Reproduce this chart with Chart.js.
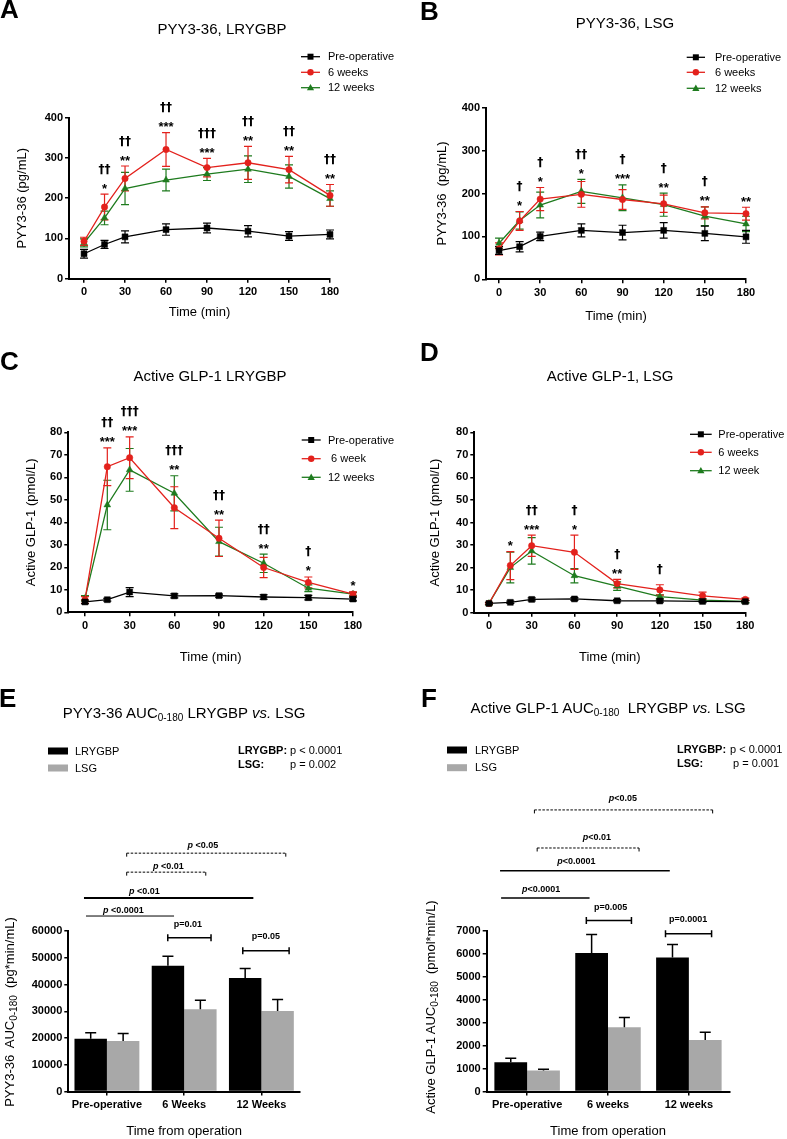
<!DOCTYPE html>
<html>
<head>
<meta charset="utf-8">
<script src="https://cdn.jsdelivr.net/npm/chart.js"></script>
<style>
  body { margin: 0; background: #fff; }
  #fig { position: relative; width: 787px; height: 1139px; overflow: hidden; background: #fff;
         font-family: 'Liberation Sans', Arial, Helvetica, sans-serif; color: #000; }
  #fig canvas { position: absolute; }
  .letter { position: absolute; font-size: 26px; font-weight: bold; line-height: 26px; }
  .ttl { position: absolute; font-size: 15px; line-height: 1; white-space: nowrap; transform: translate(-50%, -50%); }
  .ytl { position: absolute; font-size: 13px; line-height: 1; white-space: nowrap; transform: translate(-50%, -50%) rotate(-90deg); }
  sub { font-size: 10px; line-height: 0; vertical-align: -3px; }
</style>
</head>
<body>
<div id="fig">
  <canvas id="cA" width="400" height="320" style="left:0;top:0"></canvas>
  <canvas id="cB" width="397" height="324" style="left:390px;top:0"></canvas>
  <canvas id="cC" width="400" height="345" style="left:0;top:320px"></canvas>
  <canvas id="cD" width="397" height="345" style="left:390px;top:320px"></canvas>
  <canvas id="cE" width="390" height="474" style="left:0;top:665px"></canvas>
  <canvas id="cF" width="397" height="474" style="left:390px;top:665px"></canvas>

  <div class="letter" style="left:0;top:-4px">A</div>
  <div class="letter" style="left:420px;top:-2px">B</div>
  <div class="letter" style="left:0;top:348px">C</div>
  <div class="letter" style="left:420px;top:339px">D</div>
  <div class="letter" style="left:-1px;top:685px">E</div>
  <div class="letter" style="left:421px;top:685px">F</div>

  <div class="ttl" style="left:222px;top:28px">PYY3-36, LRYGBP</div>
  <div class="ttl" style="left:625px;top:22px">PYY3-36, LSG</div>
  <div class="ttl" style="left:210px;top:375px">Active GLP-1 LRYGBP</div>
  <div class="ttl" style="left:610px;top:375px">Active GLP-1, LSG</div>
  <div class="ttl" style="left:184px;top:712px">PYY3-36 AUC<sub>0-180</sub> LRYGBP <i>vs.</i> LSG</div>
  <div class="ttl" style="left:608px;top:707px">Active GLP-1 AUC<sub>0-180</sub>&nbsp; LRYGBP <i>vs.</i> LSG</div>

  <div class="ytl" style="left:9px;top:1012px">PYY3-36&nbsp; AUC<sub>0-180</sub>&nbsp; (pg*min/mL)</div>
  <div class="ytl" style="left:430px;top:1007px">Active GLP-1 AUC<sub>0-180</sub>&nbsp; (pmol*min/L)</div>
</div>

<script>
// sampling times (min) and x tick labels
const times = [0, 15, 30, 60, 90, 120, 150, 180];
const timeTicks = [0, 30, 60, 90, 120, 150, 180];

// A: PYY3-36, LRYGBP (pg/mL), mean and SEM
const pyyRygbPre = [62, 85, 104, 122, 126, 118, 106, 110];
const pyyRygbPreErr = [11, 10, 15, 14, 12, 14, 11, 11];
const pyyRygb6w = [93, 178, 249, 321, 276, 288, 271, 207];
const pyyRygb6wErr = [10, 32, 31, 42, 23, 41, 33, 27];
const pyyRygb12w = [89, 151, 224, 245, 260, 272, 254, 199];
const pyyRygb12wErr = [10, 17, 40, 27, 16, 33, 29, 19];
const pyyRygbDaggers = ['', '††', '††', '††', '†††', '††', '††', '††'];
const pyyRygbStars = ['', '*', '**', '***', '***', '**', '**', '**'];

// B: PYY3-36, LSG (pg/mL)
const pyySgPre = [67, 76, 100, 114, 109, 114, 107, 99];
const pyySgPreErr = [9, 12, 10, 15, 17, 18, 17, 15];
const pyySg6w = [71, 136, 187, 198, 186, 176, 155, 153];
const pyySg6wErr = [14, 22, 27, 30, 23, 20, 14, 15];
const pyySg12w = [84, 137, 173, 205, 190, 174, 147, 129];
const pyySg12wErr = [12, 20, 30, 28, 30, 27, 22, 18];
const pyySgDaggers = ['', '†', '†', '††', '†', '†', '†', ''];
const pyySgStars = ['', '*', '*', '*', '***', '**', '**', '**'];

// C: active GLP-1, LRYGBP (pmol/L)
const glpRygbPre = [4.6, 5.6, 9.0, 7.3, 7.4, 6.8, 6.5, 5.9];
const glpRygbPreErr = [0.8, 0.6, 2.0, 0.9, 0.7, 1.0, 1.0, 0.8];
const glpRygb6w = [5.5, 64.7, 68.7, 46.5, 32.9, 19.9, 13.3, 8.1];
const glpRygb6wErr = [1.5, 8.4, 9.3, 9.3, 8.1, 4.5, 2.4, 1.0];
const glpRygb12w = [6.2, 47.7, 63.3, 52.9, 31.4, 21.8, 10.7, 8.1];
const glpRygb12wErr = [1.2, 11.0, 9.5, 7.8, 6.4, 4.1, 1.5, 0.8];
const glpRygbDaggers = ['', '††', '†††', '†††', '††', '††', '†', ''];
const glpRygbStars = ['', '***', '***', '**', '**', '**', '*', '*'];

// D: active GLP-1, LSG (pmol/L)
const glpSgPre = [4.1, 4.6, 5.9, 6.1, 5.3, 5.2, 5.0, 4.9];
const glpSgPreErr = [0.4, 0.5, 0.7, 0.6, 0.5, 0.5, 0.5, 0.5];
const glpSg6w = [4.1, 20.9, 29.7, 26.8, 12.9, 10.1, 7.5, 5.9];
const glpSg6wErr = [0.5, 6.2, 4.7, 7.6, 1.9, 2.3, 1.6, 0.6];
const glpSg12w = [4.1, 20.0, 27.4, 16.4, 11.8, 7.1, 5.6, 5.0];
const glpSg12wErr = [0.5, 6.8, 5.9, 3.2, 1.9, 0.8, 0.6, 0.5];
const glpSgDaggers = ['', '', '††', '†', '†', '†', '', ''];
const glpSgStars = ['', '*', '***', '*', '**', '', '', ''];

// E: PYY3-36 AUC 0-180 (pg*min/mL)
const pyyAucGroups = ['Pre-operative', '6 Weeks', '12 Weeks'];
const pyyAucRygb = [19750, 47000, 42400];
const pyyAucRygbErr = [2250, 3600, 3600];
const pyyAucSg = [18900, 30750, 30100];
const pyyAucSgErr = [2750, 3400, 4250];

// F: active GLP-1 AUC 0-180 (pmol*min/L)
const glpAucGroups = ['Pre-operative', '6 weeks', '12 weeks'];
const glpAucRygb = [1275, 6043, 5841];
const glpAucRygbErr = [175, 800, 565];
const glpAucSg = [913, 2797, 2246];
const glpAucSgErr = [60, 435, 333];

// comparison lines over the bars (x in category units, y in axis units)
const pyyAucComparisons = [
  { kind: 'dashed', from: 0.256, to: 2.316, at: 89100, p: 'p', text: ' <0.05', textAt: 1.241, gap: 7.5 },
  { kind: 'dashed', from: 0.256, to: 1.28, at: 82000, p: 'p', text: ' <0.01', textAt: 0.795, gap: 5.6 },
  { kind: 'line', lw: 2, from: -0.297, to: 1.896, at: 72300, p: 'p', text: ' <0.01', textAt: 0.484, gap: 6.6 },
  { kind: 'line', lw: 1, from: -0.271, to: 0.869, at: 65600, p: 'p', text: ' <0.0001', textAt: 0.212, gap: 6 },
  { kind: 'bracket', from: 0.788, to: 1.348, at: 57500, p: '', text: 'p=0.01', textAt: 1.047, gap: 12.7 },
  { kind: 'bracket', from: 1.759, to: 2.359, at: 52600, p: '', text: 'p=0.05', textAt: 2.057, gap: 14 }
];
const glpAucComparisons = [
  { kind: 'dashed', from: 0.09, to: 2.294, at: 12280, p: 'p', text: '<0.05', textAt: 1.185, gap: 11.7 },
  { kind: 'dashed', from: 0.124, to: 1.384, at: 10620, p: 'p', text: '<0.01', textAt: 0.863, gap: 10.6 },
  { kind: 'line', lw: 1.5, from: -0.335, to: 1.764, at: 9630, p: 'p', text: '<0.0001', textAt: 0.608, gap: 9 },
  { kind: 'line', lw: 1.5, from: -0.322, to: 0.772, at: 8440, p: 'p', text: '<0.0001', textAt: 0.174, gap: 8.3 },
  { kind: 'bracket', from: 0.732, to: 1.29, at: 7460, p: '', text: 'p=0.005', textAt: 1.033, gap: 13 },
  { kind: 'bracket', from: 1.711, to: 2.281, at: 6880, p: '', text: 'p=0.0001', textAt: 1.991, gap: 14.3 }
];

const FAMILY = "'Liberation Sans', Arial, Helvetica, sans-serif";
const DAGGER_FONT = "bold 12px 'DejaVu Sans', 'Liberation Sans', Arial, sans-serif";
const INK = '#000000';
const RED = '#e3211c';
const GREEN = '#1e7b1e';
const GREY = '#a8a8a8';

Chart.defaults.font.family = FAMILY;
Chart.defaults.color = INK;

function drawMarker(ctx, style, x, y, color) {
  ctx.fillStyle = color;
  ctx.beginPath();
  if (style === 'rect') {
    ctx.rect(x - 3, y - 3, 6, 6);
  } else if (style === 'circle') {
    ctx.arc(x, y, 3.2, 0, Math.PI * 2);
  } else {
    ctx.moveTo(x, y - 3.8);
    ctx.lineTo(x + 3.6, y + 2.6);
    ctx.lineTo(x - 3.6, y + 2.6);
    ctx.closePath();
  }
  ctx.fill();
}

function axisGrid() {
  return { display: true, drawOnChartArea: false, drawTicks: true, tickLength: 4, color: INK, lineWidth: 1.5 };
}

function linePanel(p) {
  const series = [
    { name: p.names[0], vals: p.pre, err: p.preErr, color: INK, style: 'rect', r: 4.2 },
    { name: p.names[1], vals: p.w6, err: p.w6Err, color: RED, style: 'circle', r: 3.2 },
    { name: p.names[2], vals: p.w12, err: p.w12Err, color: GREEN, style: 'triangle', r: 3.9 }
  ];

  const marks = {
    id: 'marks',
    beforeDatasetsDraw(chart) {
      const ctx = chart.ctx;
      const ys = chart.scales.y;
      ctx.save();
      ctx.lineWidth = 1.2;
      for (let i = series.length - 1; i >= 0; i--) {
        const s = series[i];
        const meta = chart.getDatasetMeta(i);
        ctx.strokeStyle = s.color;
        meta.data.forEach((pt, j) => {
          const yT = ys.getPixelForValue(s.vals[j] + s.err[j]);
          const yB = ys.getPixelForValue(s.vals[j] - s.err[j]);
          ctx.beginPath();
          ctx.moveTo(pt.x, yT); ctx.lineTo(pt.x, yB);
          ctx.moveTo(pt.x - 4, yT); ctx.lineTo(pt.x + 4, yT);
          ctx.moveTo(pt.x - 4, yB); ctx.lineTo(pt.x + 4, yB);
          ctx.stroke();
        });
      }
      ctx.restore();
    },
    afterDatasetsDraw(chart) {
      const ctx = chart.ctx;
      const xs = chart.scales.x, ys = chart.scales.y;
      ctx.save();
      ctx.fillStyle = INK;
      ctx.textAlign = 'center';
      ctx.textBaseline = 'alphabetic';
      // significance symbols sit above the highest error bar
      times.forEach((t, j) => {
        const dag = p.daggers[j], star = p.stars[j];
        if (!dag && !star) return;
        const top = Math.min(...series.map(s => ys.getPixelForValue(s.vals[j] + s.err[j])));
        const x = xs.getPixelForValue(t);
        const starY = top - 9;
        if (star) {
          ctx.font = 'bold 13px ' + FAMILY;
          ctx.fillText(star, x, starY + 7.5);
        }
        if (dag) {
          const dy = star ? starY - 16 : top - 15;
          ctx.font = DAGGER_FONT;
          ctx.fillText(dag, x, dy + 3.5);
        }
      });
      // legend
      const lg = p.legend;
      ctx.textAlign = 'left';
      ctx.textBaseline = 'middle';
      ctx.font = '11px ' + FAMILY;
      series.forEach((s, i) => {
        const y = lg.ys[i];
        ctx.strokeStyle = s.color;
        ctx.lineWidth = 1.3;
        ctx.beginPath();
        ctx.moveTo(lg.x0, y); ctx.lineTo(lg.x1, y);
        ctx.stroke();
        drawMarker(ctx, s.style, (lg.x0 + lg.x1) / 2, y, s.color);
        ctx.fillStyle = INK;
        ctx.fillText(s.name, lg.tx, y + 0.5);
      });
      ctx.restore();
    }
  };

  new Chart(document.getElementById(p.id), {
    type: 'line',
    data: {
      datasets: series.map(s => ({
        label: s.name,
        data: times.map((t, i) => ({ x: t, y: s.vals[i] })),
        borderColor: s.color,
        backgroundColor: s.color,
        borderWidth: 1.3,
        tension: 0,
        pointStyle: s.style,
        pointRadius: s.r,
        pointBorderWidth: 0.5,
        pointBackgroundColor: s.color,
        pointBorderColor: s.color,
        clip: false
      }))
    },
    options: {
      responsive: false,
      animation: false,
      devicePixelRatio: 1,
      layout: { padding: { left: 0, top: p.top, right: p.right, bottom: 0 } },
      plugins: { legend: { display: false }, tooltip: { enabled: false } },
      scales: {
        x: {
          type: 'linear',
          min: p.xMin,
          max: 180,
          afterFit: s => { s.height = p.hx; },
          afterBuildTicks: s => { s.ticks = timeTicks.map(v => ({ value: v })); },
          grid: axisGrid(),
          border: { display: true, color: INK, width: 2 },
          ticks: { font: { size: 11, weight: 'bold' }, padding: 3, maxRotation: 0, color: INK },
          title: { display: true, text: 'Time (min)', font: { size: 13 }, padding: { top: 0, bottom: 0 }, color: INK }
        },
        y: {
          min: 0,
          max: p.yMax,
          afterFit: s => { s.width = p.wy; },
          grid: axisGrid(),
          border: { display: true, color: INK, width: 2 },
          ticks: { stepSize: p.yStep, font: { size: 11, weight: 'bold' }, padding: 2, color: INK },
          title: { display: true, text: p.yTitle, font: { size: 13 }, padding: { top: p.yTitlePad, bottom: 0 }, color: INK }
        }
      }
    },
    plugins: [marks]
  });
}

function drawPLabel(ctx, cx, cy, italicPart, rest) {
  const fi = 'italic bold 9px ' + FAMILY;
  const fr = 'bold 9px ' + FAMILY;
  ctx.font = fi;
  const w1 = italicPart ? ctx.measureText(italicPart).width : 0;
  ctx.font = fr;
  const w2 = ctx.measureText(rest).width;
  let x = cx - (w1 + w2) / 2;
  ctx.textAlign = 'left';
  ctx.textBaseline = 'middle';
  if (italicPart) {
    ctx.font = fi;
    ctx.fillText(italicPart, x, cy);
    x += w1;
  }
  ctx.font = fr;
  ctx.fillText(rest, x, cy);
}

function barPanel(p) {
  const marks = {
    id: 'barMarks',
    afterDatasetsDraw(chart) {
      const ctx = chart.ctx;
      const xs = chart.scales.x, ys = chart.scales.y;
      ctx.save();
      // error bars (SEM, upward)
      ctx.strokeStyle = INK;
      ctx.lineWidth = 1.5;
      [[p.rygb, p.rygbErr], [p.sg, p.sgErr]].forEach(([vals, errs], i) => {
        chart.getDatasetMeta(i).data.forEach((bar, j) => {
          const yT = ys.getPixelForValue(vals[j] + errs[j]);
          ctx.beginPath();
          ctx.moveTo(bar.x, bar.y); ctx.lineTo(bar.x, yT);
          ctx.moveTo(bar.x - 5.5, yT); ctx.lineTo(bar.x + 5.5, yT);
          ctx.stroke();
        });
      });
      // comparison lines
      ctx.fillStyle = INK;
      p.comparisons.forEach(c => {
        const x0 = xs.getPixelForValue(c.from);
        const x1 = xs.getPixelForValue(c.to);
        const y = ys.getPixelForValue(c.at);
        ctx.beginPath();
        if (c.kind === 'dashed') {
          ctx.lineWidth = 1;
          ctx.setLineDash([2.5, 1.5]);
          ctx.moveTo(x0, y); ctx.lineTo(x1, y);
          ctx.stroke();
          ctx.setLineDash([]);
          ctx.beginPath();
          ctx.moveTo(x0, y); ctx.lineTo(x0, y + 3.5);
          ctx.moveTo(x1, y); ctx.lineTo(x1, y + 3.5);
          ctx.stroke();
        } else if (c.kind === 'line') {
          ctx.lineWidth = c.lw;
          ctx.moveTo(x0, y); ctx.lineTo(x1, y);
          ctx.stroke();
        } else {
          ctx.lineWidth = 1.5;
          ctx.moveTo(x0, y); ctx.lineTo(x1, y);
          ctx.moveTo(x0, y - 3.5); ctx.lineTo(x0, y + 3.5);
          ctx.moveTo(x1, y - 3.5); ctx.lineTo(x1, y + 3.5);
          ctx.stroke();
        }
        drawPLabel(ctx, xs.getPixelForValue(c.textAt), y - c.gap, c.p, c.text);
      });
      // legend
      const lg = p.legend;
      ctx.textAlign = 'left';
      ctx.textBaseline = 'middle';
      ctx.font = '11px ' + FAMILY;
      [[INK, 'LRYGBP'], [GREY, 'LSG']].forEach(([col, name], i) => {
        const y = lg.ys[i];
        ctx.fillStyle = col;
        ctx.fillRect(lg.x0, y - 3.5, 20, 7);
        ctx.fillStyle = INK;
        ctx.fillText(name, lg.tx, y + 0.5);
      });
      // overall p values
      const pv = p.pValues;
      pv.rows.forEach((row, i) => {
        ctx.font = 'bold 11px ' + FAMILY;
        ctx.fillText(row[0], pv.x0, pv.ys[i]);
        ctx.font = '11px ' + FAMILY;
        ctx.fillText(row[1], pv.x1[i], pv.ys[i]);
      });
      ctx.restore();
    }
  };

  new Chart(document.getElementById(p.id), {
    type: 'bar',
    data: {
      labels: p.groups,
      datasets: [
        { label: 'LRYGBP', data: p.rygb, backgroundColor: INK, borderWidth: 0 },
        { label: 'LSG', data: p.sg, backgroundColor: GREY, borderWidth: 0 }
      ]
    },
    options: {
      responsive: false,
      animation: false,
      devicePixelRatio: 1,
      categoryPercentage: p.catPct,
      barPercentage: 1,
      layout: { padding: { left: 0, top: p.top, right: p.right, bottom: 0 } },
      plugins: { legend: { display: false }, tooltip: { enabled: false } },
      scales: {
        x: {
          offset: true,
          afterFit: s => { s.height = p.hx; },
          grid: Object.assign(axisGrid(), { offset: false }),
          border: { display: true, color: INK, width: 2 },
          ticks: { font: { size: 11, weight: 'bold' }, padding: 3, maxRotation: 0, color: INK },
          title: { display: true, text: 'Time from operation', font: { size: 13 }, padding: { top: 0, bottom: 0 }, color: INK }
        },
        y: {
          min: 0,
          max: p.yMax,
          afterFit: s => { s.width = p.wy; },
          grid: axisGrid(),
          border: { display: true, color: INK, width: 2 },
          ticks: { stepSize: p.yStep, font: { size: 11, weight: 'bold' }, padding: 2, color: INK,
                   callback: v => String(v) }
        }
      }
    },
    plugins: [marks]
  });
}

linePanel({
  id: 'cA', top: 117.7, right: 70, hx: 41.3, wy: 69, xMin: -11, yMax: 400, yStep: 100,
  yTitle: 'PYY3-36 (pg/mL)', yTitlePad: 14.7,
  pre: pyyRygbPre, preErr: pyyRygbPreErr, w6: pyyRygb6w, w6Err: pyyRygb6wErr, w12: pyyRygb12w, w12Err: pyyRygb12wErr,
  daggers: pyyRygbDaggers, stars: pyyRygbStars,
  names: ['Pre-operative', '6 weeks', '12 weeks'],
  legend: { x0: 301, x1: 320, tx: 328, ys: [56.7, 72.3, 87.7] }
});

linePanel({
  id: 'cB', top: 107.7, right: 41, hx: 44.7, wy: 96, xMin: -9.5, yMax: 400, yStep: 100,
  yTitle: 'PYY3-36  (pg/mL)', yTitlePad: 44.7,
  pre: pyySgPre, preErr: pyySgPreErr, w6: pyySg6w, w6Err: pyySg6wErr, w12: pyySg12w, w12Err: pyySg12wErr,
  daggers: pyySgDaggers, stars: pyySgStars,
  names: ['Pre-operative', '6 weeks', '12 weeks'],
  legend: { x0: 296.7, x1: 315, tx: 325, ys: [57.3, 72.3, 88.3] }
});

linePanel({
  id: 'cC', top: 112.3, right: 47, hx: 52.7, wy: 68.3, xMin: -11.2, yMax: 80, yStep: 10,
  yTitle: 'Active GLP-1 (pmol/L)', yTitlePad: 23.7,
  pre: glpRygbPre, preErr: glpRygbPreErr, w6: glpRygb6w, w6Err: glpRygb6wErr, w12: glpRygb12w, w12Err: glpRygb12wErr,
  daggers: glpRygbDaggers, stars: glpRygbStars,
  names: ['Pre-operative', ' 6 week', '12 weeks'],
  legend: { x0: 301.7, x1: 320.7, tx: 328, ys: [120, 138.7, 157.3] }
});

linePanel({
  id: 'cD', top: 112.3, right: 41.7, hx: 52.3, wy: 84.3, xMin: -10.3, yMax: 80, yStep: 10,
  yTitle: 'Active GLP-1 (pmol/L)', yTitlePad: 37.2,
  pre: glpSgPre, preErr: glpSgPreErr, w6: glpSg6w, w6Err: glpSg6wErr, w12: glpSg12w, w12Err: glpSg12wErr,
  daggers: glpSgDaggers, stars: glpSgStars,
  names: ['Pre-operative', '6 weeks', '12 week'],
  legend: { x0: 300, x1: 321.7, tx: 328.3, ys: [114.3, 132.3, 150.7] }
});

barPanel({
  id: 'cE', top: 266, right: 90, hx: 47.5, wy: 68.3, yMax: 60000, yStep: 10000, catPct: 0.84,
  groups: pyyAucGroups, rygb: pyyAucRygb, rygbErr: pyyAucRygbErr, sg: pyyAucSg, sgErr: pyyAucSgErr,
  comparisons: pyyAucComparisons,
  legend: { x0: 48, tx: 75, ys: [86, 103] },
  pValues: { x0: 238, x1: [290, 290], ys: [86, 100], rows: [['LRYGBP:', 'p < 0.0001'], ['LSG:', 'p = 0.002']] }
});

barPanel({
  id: 'cF', top: 266, right: 57.7, hx: 47.5, wy: 96.7, yMax: 7000, yStep: 1000, catPct: 0.81,
  groups: glpAucGroups, rygb: glpAucRygb, rygbErr: glpAucRygbErr, sg: glpAucSg, sgErr: glpAucSgErr,
  comparisons: glpAucComparisons,
  legend: { x0: 57, tx: 85, ys: [85, 102.7] },
  pValues: { x0: 287, x1: [340, 343], ys: [85, 99], rows: [['LRYGBP:', 'p < 0.0001'], ['LSG:', 'p = 0.001']] }
});
</script>
</body>
</html>
